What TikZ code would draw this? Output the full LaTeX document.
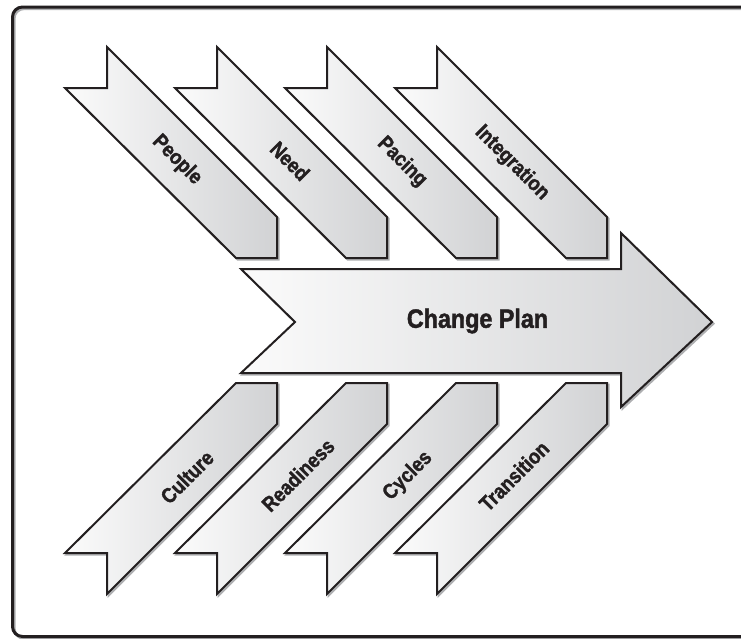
\documentclass[tikz,border=0pt]{standalone}
\usepackage{fontspec}
\newfontfamily\labfont{Liberation Sans}[UprightFont={* Bold}, BoldFont={* Bold}, FakeStretch=0.88, FakeBold=1.6]
\definecolor{ink}{HTML}{231F20}
\definecolor{shadowgray}{HTML}{AEAFB1}
\definecolor{gradleft}{HTML}{FBFBFB}
\definecolor{gradmid}{HTML}{EAEBEC}
\definecolor{gradright}{HTML}{D1D2D4}
\begin{document}
\begin{tikzpicture}[x=1pt,y=-1pt,
  outl/.style={draw=ink, line width=2pt, line join=miter, left color=gradleft, middle color=gradmid, right color=gradright},
  shad/.style={fill=shadowgray, draw=shadowgray, line width=2pt, line join=miter},
  lab/.style={font=\labfont\fontsize{21}{23}\selectfont, text=ink, inner sep=0pt},
  mainlab/.style={font=\labfont\fontsize{26.5}{28}\selectfont, text=ink, inner sep=0pt}]
\useasboundingbox (0,0) rectangle (741,638);
\begin{scope}
  \clip (0,0) rectangle (741,638);
  \draw[shadowgray, line width=3pt, rounded corners=10pt] (14,8.6) rectangle (760,638.1);
  \draw[ink, line width=3pt, rounded corners=10pt] (12.5,7) rectangle (760,636.5);
\end{scope}
% upper and lower ribbons
\foreach \i in {0,1,2,3} {
  \begin{scope}[xshift=110*\i]
    \path[shad, shift={(1.6,1.6)}] (107,47) -- (277,217) -- (277,258) -- (236,258) -- (65,88) -- (107,88) -- cycle;
    \path[outl] (107,47) -- (277,217) -- (277,258) -- (236,258) -- (65,88) -- (107,88) -- cycle;
    \path[shad, shift={(1.6,1.6)}] (107,594) -- (277,424) -- (277,383) -- (236,383) -- (65,553) -- (107,553) -- cycle;
    \path[outl] (107,594) -- (277,424) -- (277,383) -- (236,383) -- (65,553) -- (107,553) -- cycle;
  \end{scope}
}
% main arrow
\path[shad, shift={(1.6,1.6)}] (241,269) -- (621,269) -- (621,233) -- (712,322) -- (621,407) -- (621,373) -- (241,373) -- (295,322) -- cycle;
\path[outl] (241,269) -- (621,269) -- (621,233) -- (712,322) -- (621,407) -- (621,373) -- (241,373) -- (295,322) -- cycle;
% labels
\node[mainlab] (plan) at (477.5,321) {Change Plan};
\node[lab, rotate=-45] (people) at (177,160) {People};
\node[lab, rotate=-45] (need) at (290,161) {Need};
\node[lab, rotate=-45] (pacing) at (402,162) {Pacing};
\node[lab, rotate=-45] (integration) at (512,163) {Integration};
\node[lab, rotate=45] (culture) at (187,477) {Culture};
\node[lab, rotate=45] (readiness) at (298,475) {Readiness};
\node[lab, rotate=45] (cycles) at (408,476) {Cycles};
\node[lab, rotate=45] (transition) at (514,476) {Transition};
\end{tikzpicture}
\end{document}
